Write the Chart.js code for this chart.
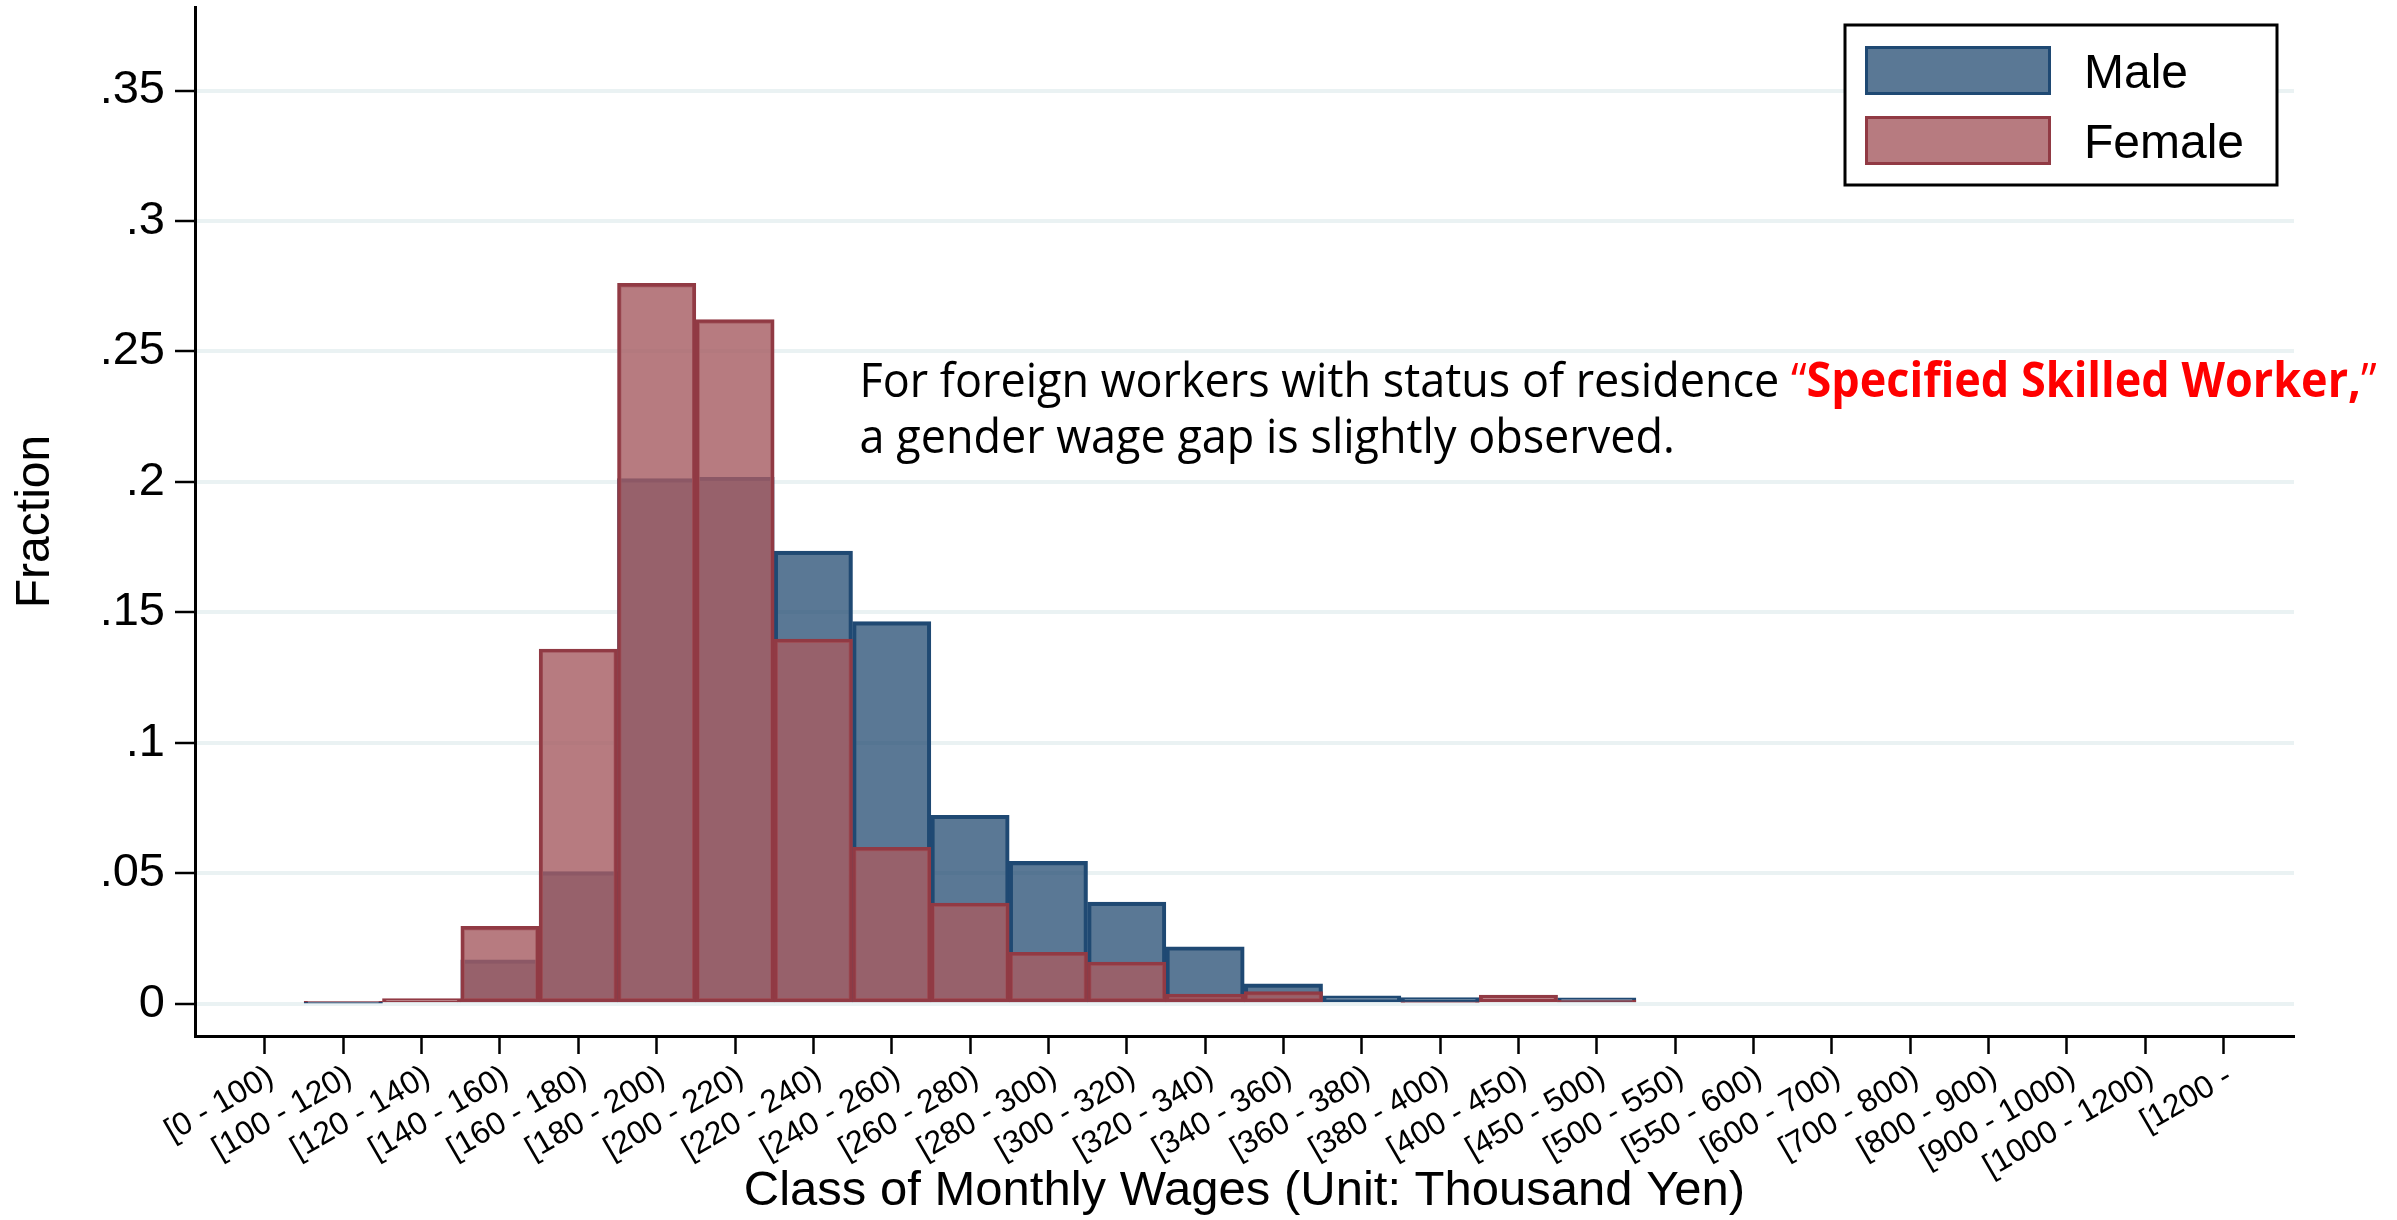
<!DOCTYPE html>
<html>
<head>
<meta charset="utf-8">
<script src="https://cdn.jsdelivr.net/npm/chart.js@4.4.1/dist/chart.umd.min.js"></script>
<style>
    html, body { margin: 0; padding: 0; background: #ffffff; }
    canvas { display: block; }
</style>
</head>
<body>
<canvas id="wageChart" width="2397" height="1220"></canvas>
<script>
// classes of monthly wages (thousand yen)
const wageClasses = [
    `[0 - 100)`, `[100 - 120)`, `[120 - 140)`, `[140 - 160)`, `[160 - 180)`,
    `[180 - 200)`, `[200 - 220)`, `[220 - 240)`, `[240 - 260)`, `[260 - 280)`,
    `[280 - 300)`, `[300 - 320)`, `[320 - 340)`, `[340 - 360)`, `[360 - 380)`,
    `[380 - 400)`, `[400 - 450)`, `[450 - 500)`, `[500 - 550)`, `[550 - 600)`,
    `[600 - 700)`, `[700 - 800)`, `[800 - 900)`, `[900 - 1000)`, `[1000 - 1200)`,
    `[1200 -`
]
// fraction of workers in each class
const maleFraction = [
    0, 0.0003, 0.0008, 0.0169, 0.0507,
    0.2013, 0.2018, 0.1735, 0.1465, 0.0723,
    0.0546, 0.0390, 0.0219, 0.0077, 0.0031,
    0.0024, 0, 0.0023, 0, 0,
    0, 0, 0, 0, 0,
    0
]
const femaleFraction = [
    0, 0.0010, 0.0020, 0.0297, 0.1360,
    0.2761, 0.2622, 0.1398, 0.0600, 0.0386,
    0.0198, 0.0160, 0.0038, 0.0047, 0,
    0.0006, 0.0034, 0.0015, 0, 0,
    0, 0, 0, 0, 0,
    0
]
const yTicks = [0, 0.05, 0.1, 0.15, 0.2, 0.25, 0.3, 0.35]
const seriesNames = [`Male`, `Female`]
//
const axisFont = `'Liberation Sans', Arial, sans-serif`
const noteFont = `'Open Sans', 'Noto Sans', sans-serif`
const maleFill = `rgba(38, 78, 116, 0.76)`
const maleEdge = `rgb(31, 73, 115)`
const femaleFill = `rgba(166, 93, 98, 0.81)`
const femaleEdge = `rgb(145, 58, 68)`
// note text, placed in data units (class index, fraction)
const noteX = 7.59
const noteY = [0.2326, 0.2111]
const noteWidth = 1517
const noteLines = [
    [
        { text: `For foreign workers with status of residence `, color: `#000000`, bold: false },
        { text: `\u201C`, color: `#ff0000`, bold: false },
        { text: `Specified Skilled Worker,`, color: `#ff0000`, bold: true },
        { text: `\u201D`, color: `#ff0000`, bold: false }
    ],
    [
        { text: `a gender wage gap is slightly observed.`, color: `#000000`, bold: false }
    ]
]
//
function toPoints(values) {
    return values.map((v, i) => ({ x: i, y: v }))
}
//
function fmtFraction(v) {
    if (v === 0) return `0`
    return String(+v.toFixed(2)).replace(/^0/, ``)
}
//
const legendBox = {
    id: `legendBox`,
    afterDraw(chart) {
        const { ctx, chartArea } = chart
        const left = chartArea.right - 449
        const top = chartArea.top + 18
        ctx.save()
        ctx.fillStyle = `#ffffff`
        ctx.fillRect(left, top, 432, 160)
        ctx.lineWidth = 3
        ctx.strokeStyle = `#000000`
        ctx.strokeRect(left, top, 432, 160)
        const items = [
            { name: seriesNames[0], fill: maleFill, edge: maleEdge },
            { name: seriesNames[1], fill: femaleFill, edge: femaleEdge }
        ]
        items.forEach((item, i) => {
            const sy = top + 21 + i * 70
            ctx.fillStyle = item.fill
            ctx.fillRect(left + 20, sy, 186, 49)
            ctx.lineWidth = 3
            ctx.strokeStyle = item.edge
            ctx.strokeRect(left + 21.5, sy + 1.5, 183, 46)
            ctx.fillStyle = `#000000`
            ctx.font = `48px ${axisFont}`
            ctx.textBaseline = `alphabetic`
            ctx.textAlign = `left`
            ctx.fillText(item.name, left + 239, sy + 42)
        })
        ctx.restore()
    }
}
//
const noteText = {
    id: `noteText`,
    afterDraw(chart) {
        const { ctx, scales } = chart
        const x0 = scales.x.getPixelForValue(noteX)
        const fontOf = run => `${run.bold ? `bold ` : ``}48px ${noteFont}`
        ctx.save()
        let full = 0
        noteLines[0].forEach(run => {
            ctx.font = fontOf(run)
            full += ctx.measureText(run.text).width
        })
        const k = noteWidth / full
        noteLines.forEach((line, li) => {
            const y0 = scales.y.getPixelForValue(noteY[li])
            ctx.save()
            ctx.translate(x0, y0)
            ctx.scale(k, 1)
            let cx = 0
            line.forEach(run => {
                ctx.font = fontOf(run)
                ctx.fillStyle = run.color
                ctx.textBaseline = `alphabetic`
                ctx.textAlign = `left`
                ctx.fillText(run.text, cx, 0)
                cx += ctx.measureText(run.text).width
            })
            ctx.restore()
        })
        ctx.restore()
    }
}
//
new Chart(document.getElementById(`wageChart`), {
    type: `bar`,
    data: {
        datasets: [
            {
                label: seriesNames[0],
                data: toPoints(maleFraction),
                backgroundColor: maleFill,
                borderColor: maleEdge,
                borderWidth: 3.5,
                borderSkipped: false,
                grouped: false,
                barPercentage: 1,
                categoryPercentage: 1,
                order: 2
            },
            {
                label: seriesNames[1],
                data: toPoints(femaleFraction),
                backgroundColor: femaleFill,
                borderColor: femaleEdge,
                borderWidth: 3.5,
                borderSkipped: false,
                grouped: false,
                barPercentage: 1,
                categoryPercentage: 1,
                order: 1
            }
        ]
    },
    options: {
        responsive: false,
        devicePixelRatio: 1,
        animation: false,
        layout: { padding: { top: 7, right: 103, left: 0, bottom: 0 } },
        plugins: {
            legend: { display: false },
            tooltip: { enabled: false }
        },
        scales: {
            x: {
                type: `linear`,
                offset: false,
                min: -0.893,
                max: 25.9,
                afterBuildTicks: scale => {
                    scale.ticks = wageClasses.map((_, i) => ({ value: i }))
                },
                afterFit: scale => {
                    scale.height = 184
                    scale.paddingLeft = 0
                    scale.paddingRight = 0
                },
                grid: {
                    offset: false,
                    drawOnChartArea: false,
                    drawTicks: true,
                    tickLength: 18,
                    tickColor: `#000000`,
                    tickWidth: 2.5
                },
                border: { display: true, color: `#000000`, width: 3 },
                ticks: {
                    autoSkip: false,
                    minRotation: 30,
                    maxRotation: 30,
                    padding: 4,
                    labelOffset: 6,
                    color: `#000000`,
                    font: { family: axisFont, size: 32 },
                    callback: value => wageClasses[value]
                },
                title: {
                    display: true,
                    text: `Class of Monthly Wages (Unit: Thousand Yen)`,
                    color: `#000000`,
                    font: { family: axisFont, size: 49, lineHeight: 1 },
                    padding: { top: 0, bottom: 4 }
                }
            },
            y: {
                min: -0.0123,
                max: 0.382,
                afterBuildTicks: scale => {
                    scale.ticks = yTicks.map(v => ({ value: v }))
                },
                afterFit: scale => {
                    scale.width = 195
                    scale.paddingTop = 0
                    scale.paddingBottom = 0
                },
                grid: {
                    color: `#eaf2f3`,
                    lineWidth: 4,
                    drawTicks: true,
                    tickLength: 20,
                    tickColor: `#000000`,
                    tickWidth: 2.5
                },
                border: { display: true, color: `#000000`, width: 3 },
                ticks: {
                    padding: 10,
                    color: `#000000`,
                    font: { family: axisFont, size: 47 },
                    callback: value => fmtFraction(value)
                },
                title: {
                    display: true,
                    text: `Fraction`,
                    color: `#000000`,
                    font: { family: axisFont, size: 48, lineHeight: 1 },
                    padding: { top: 12, bottom: 0 }
                }
            }
        }
    },
    plugins: [legendBox, noteText]
})
</script>
</body>
</html>
